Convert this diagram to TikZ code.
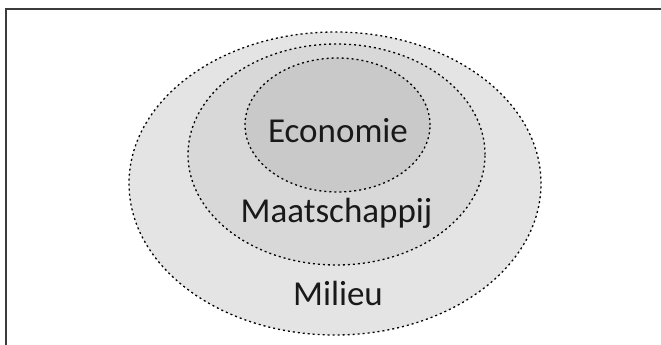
\documentclass[tikz,border=0pt]{standalone}
\usepackage{fontspec}
\setmainfont{Carlito}
\usetikzlibrary{shapes.geometric}
\definecolor{outerfill}{HTML}{E4E4E4}
\definecolor{midfill}{HTML}{D8D8D8}
\definecolor{innerfill}{HTML}{C9C9C9}
\definecolor{framegray}{HTML}{3C3C3C}
\tikzset{
  ring/.style={ellipse, draw=black, line width=1.3pt, dash pattern=on 2pt off 3pt, inner sep=0pt},
  lbl/.style={font=\fontsize{35}{40}\selectfont, anchor=base, inner sep=0pt, text=black!90},
}
\begin{document}
\begin{tikzpicture}[x=1pt,y=-1pt]
\useasboundingbox (0,0) rectangle (661,345);
\coordinate (fbl) at (5.5,345);
\coordinate (ftl) at (5.5,9.5);
\coordinate (ftr) at (661,9.5);
\draw[framegray, line width=2pt] (fbl) -- (ftl) -- (ftr);
\node[ring, fill=outerfill, minimum width=412pt, minimum height=303pt] (outer) at (335,183.5) {};
\node[ring, fill=midfill, minimum width=297pt, minimum height=221pt] (middle) at (336.5,154.5) {};
\node[ring, fill=innerfill, minimum width=185pt, minimum height=134pt] (inner) at (337.5,125) {};
\node[lbl] (eco) at (338,142) {Economie};
\node[lbl] (maat) at (336.5,222) {Maatschappij};
\node[lbl] (mil) at (338,305) {Milieu};
\end{tikzpicture}
\end{document}
